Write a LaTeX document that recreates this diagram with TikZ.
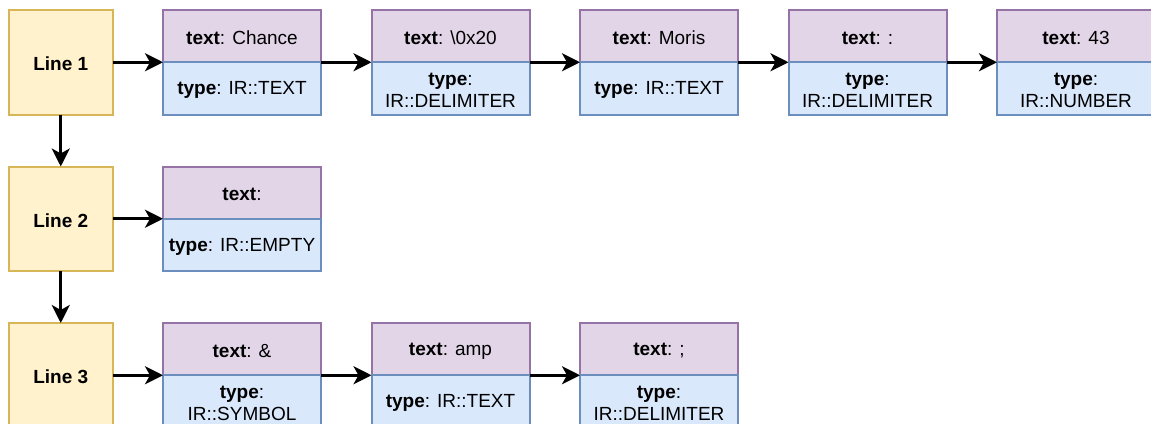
\documentclass[tikz,border=0pt]{standalone}
\usepackage{fontspec}
\setmainfont{Liberation Sans}
\usetikzlibrary{arrows.meta}
\definecolor{ylwF}{HTML}{FFF2CC}
\definecolor{ylwD}{HTML}{D6B656}
\definecolor{purF}{HTML}{E1D5E7}
\definecolor{purD}{HTML}{9673A6}
\definecolor{bluF}{HTML}{DAE8FC}
\definecolor{bluD}{HTML}{6C8EBF}
\tikzset{
  linebox/.style={draw=ylwD, fill=ylwF, line width=2pt, minimum width=104.5pt, minimum height=104.5pt,
    anchor=north west, inner sep=0pt, outer sep=0pt},
  half/.style={line width=2pt, minimum width=158pt, minimum height=52.25pt,
    anchor=north west, inner sep=0pt, outer sep=0pt},
  texthalf/.style={half, draw=purD, fill=purF},
  typehalf/.style={half, draw=bluD, fill=bluF},
  txt/.style={font=\fontsize{19}{21.5}\selectfont, align=center, inner sep=0pt, yshift=-1.8pt},
  btxt/.style={txt, font=\fontsize{19}{21.5}\selectfont\bfseries},
  conn/.style={line width=3pt, -{Stealth[length=18pt,width=18pt,inset=5pt]}}
}
\begin{document}
\begin{tikzpicture}[x=1pt,y=-1pt]
\useasboundingbox (0,0) rectangle (1151,423);
% line boxes
\node[linebox, label={[btxt]center:Line 1}] (L1) at (8.5,10) {};
\node[linebox, label={[btxt]center:Line 2}] (L2) at (8.5,166.5) {};
\node[linebox, label={[btxt]center:Line 3}] (L3) at (8.5,323) {};
% row 1
\node[texthalf, label={[txt]center:{\textbf{text}: Chance}}] (t11) at (163,10) {};
\node[typehalf, label={[txt]center:{\textbf{type}: IR::TEXT}}] (b11) at (163,62.25) {};
\node[texthalf, label={[txt]center:{\textbf{text}: \textbackslash 0x20}}] (t12) at (371.5,10) {};
\node[typehalf, label={[txt]center:{\textbf{type}:\\IR::DELIMITER}}] (b12) at (371.5,62.25) {};
\node[texthalf, label={[txt]center:{\textbf{text}: Moris}}] (t13) at (580,10) {};
\node[typehalf, label={[txt]center:{\textbf{type}: IR::TEXT}}] (b13) at (580,62.25) {};
\node[texthalf, label={[txt]center:{\textbf{text}: :}}] (t14) at (788.5,10) {};
\node[typehalf, label={[txt]center:{\textbf{type}:\\IR::DELIMITER}}] (b14) at (788.5,62.25) {};
\node[texthalf, label={[txt]center:{\textbf{text}: 43}}] (t15) at (997,10) {};
\node[typehalf, label={[txt]center:{\textbf{type}:\\IR::NUMBER}}] (b15) at (997,62.25) {};
% row 2
\node[texthalf, label={[txt]center:{\textbf{text}:}}] (t21) at (163,166.5) {};
\node[typehalf, label={[txt]center:{\textbf{type}: IR::EMPTY}}] (b21) at (163,218.75) {};
% row 3
\node[texthalf, label={[txt]center:{\textbf{text}: \&}}] (t31) at (163,323) {};
\node[typehalf, label={[txt]center:{\textbf{type}:\\IR::SYMBOL}}] (b31) at (163,375.25) {};
\node[texthalf, label={[txt]center:{\textbf{text}: amp}}] (t32) at (371.5,323) {};
\node[typehalf, label={[txt]center:{\textbf{type}: IR::TEXT}}] (b32) at (371.5,375.25) {};
\node[texthalf, label={[txt]center:{\textbf{text}: ;}}] (t33) at (580,323) {};
\node[typehalf, label={[txt]center:{\textbf{type}:\\IR::DELIMITER}}] (b33) at (580,375.25) {};
% connectors
\draw[conn] (L1.east) -- (b11.north west);
\draw[conn] (b11.north east) -- (b12.north west);
\draw[conn] (b12.north east) -- (b13.north west);
\draw[conn] (b13.north east) -- (b14.north west);
\draw[conn] (b14.north east) -- (b15.north west);
\draw[conn] (L2.east) -- (b21.north west);
\draw[conn] (L3.east) -- (b31.north west);
\draw[conn] (b31.north east) -- (b32.north west);
\draw[conn] (b32.north east) -- (b33.north west);
\draw[conn] (L1.south) -- (L2.north);
\draw[conn] (L2.south) -- (L3.north);
\end{tikzpicture}
\end{document}
